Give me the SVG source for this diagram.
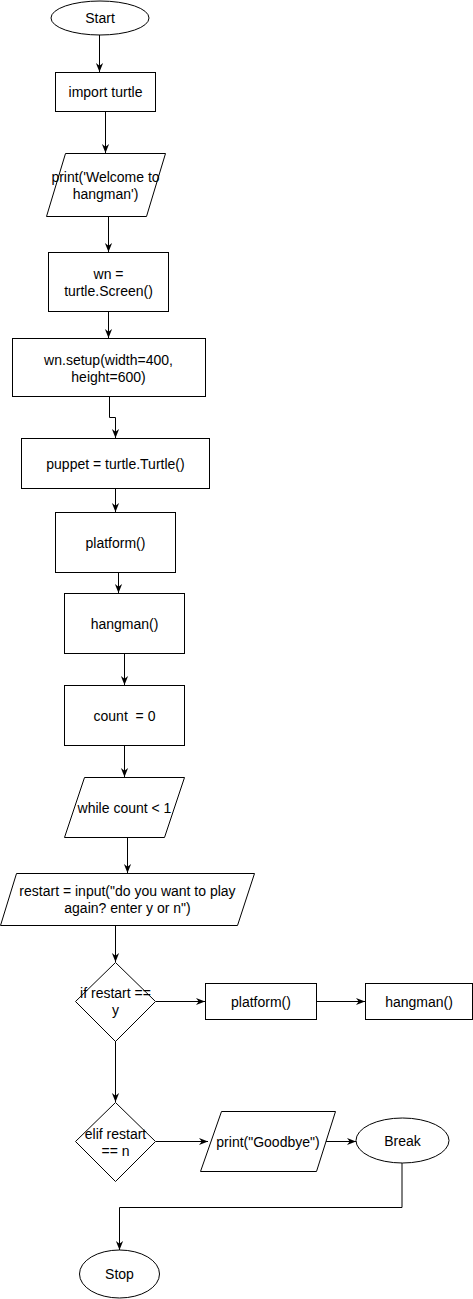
<svg xmlns="http://www.w3.org/2000/svg" width="473" height="1299" viewBox="0 0 473 1299">
<style>
.s{fill:#fff;stroke:#000;stroke-width:1}
.t{font-family:"Liberation Sans",Arial,sans-serif;font-size:14px;fill:#000;text-anchor:middle;white-space:pre}
.c{fill:none;stroke:#000;stroke-width:1}
</style>
<defs>
<marker id="a" viewBox="0 0 10 10" refX="10" refY="5" markerWidth="9" markerHeight="9" markerUnits="userSpaceOnUse" orient="auto">
<path d="M0,1 L10,5 L0,9 L3,5 z" fill="#000"/>
</marker>
</defs>
<rect width="473" height="1299" fill="#fff"/>
<g id="connectors">
<path class="c" d="M99.5,35 V72" marker-end="url(#a)"/>
<path class="c" d="M105.5,111 V153" marker-end="url(#a)"/>
<path class="c" d="M108.5,216 V252" marker-end="url(#a)"/>
<path class="c" d="M108.5,311 V338" marker-end="url(#a)"/>
<path class="c" d="M109.5,396 V417.5 H115.5 V438" marker-end="url(#a)"/>
<path class="c" d="M115.5,488 V512" marker-end="url(#a)"/>
<path class="c" d="M118.5,572 V593" marker-end="url(#a)"/>
<path class="c" d="M124.5,653 V685" marker-end="url(#a)"/>
<path class="c" d="M124.5,745 V777" marker-end="url(#a)"/>
<path class="c" d="M127.5,837 V873" marker-end="url(#a)"/>
<path class="c" d="M115.5,925 V962" marker-end="url(#a)"/>
<path class="c" d="M156,1001.5 H205" marker-end="url(#a)"/>
<path class="c" d="M316,1001.5 H365" marker-end="url(#a)"/>
<path class="c" d="M115.5,1041 V1102" marker-end="url(#a)"/>
<path class="c" d="M156,1141.5 H208" marker-end="url(#a)"/>
<path class="c" d="M325.5,1141.5 H356" marker-end="url(#a)"/>
<path class="c" d="M402,1163 V1207.5 H119.5 V1250" marker-end="url(#a)"/>
</g>
<g id="start">
<ellipse class="s" cx="100" cy="18" rx="49" ry="17"/>
<text class="t" x="100" y="23">Start</text>
</g>
<g id="import">
<rect class="s" x="55.5" y="72.5" width="100" height="39"/>
<text class="t" x="105.5" y="97">import turtle</text>
</g>
<g id="print-welcome">
<polygon class="s" points="65.5,153.5 165.5,153.5 146.5,216.5 46.5,216.5"/>
<text class="t" x="105.5" y="182">print('Welcome to</text>
<text class="t" x="105.5" y="199">hangman')</text>
</g>
<g id="wn-screen">
<rect class="s" x="48.5" y="252.5" width="120" height="59"/>
<text class="t" x="108.5" y="278.5">wn =</text>
<text class="t" x="108.5" y="295.5">turtle.Screen()</text>
</g>
<g id="wn-setup">
<rect class="s" x="12.5" y="338.5" width="193" height="58"/>
<text class="t" x="108.5" y="364.5">wn.setup(width=400,</text>
<text class="t" x="108.5" y="381.5">height=600)</text>
</g>
<g id="puppet">
<rect class="s" x="21.5" y="438.5" width="188" height="50"/>
<text class="t" x="115.5" y="468.5">puppet = turtle.Turtle()</text>
</g>
<g id="platform1">
<rect class="s" x="55.5" y="512.5" width="120" height="60"/>
<text class="t" x="115.5" y="547.5">platform()</text>
</g>
<g id="hangman1">
<rect class="s" x="64.5" y="593.5" width="120" height="60"/>
<text class="t" x="124.5" y="628.5">hangman()</text>
</g>
<g id="count">
<rect class="s" x="64.5" y="685.5" width="120" height="60"/>
<text class="t" x="124.5" y="720.5">count  = 0</text>
</g>
<g id="while">
<polygon class="s" points="84.5,777.5 184.5,777.5 164.5,837.5 64.5,837.5"/>
<text class="t" x="124.5" y="812.5">while count &lt; 1</text>
</g>
<g id="restart-input">
<polygon class="s" points="16.5,873.5 254.5,873.5 237.5,925.5 0.5,925.5"/>
<text class="t" x="127.5" y="896">restart = input("do you want to play</text>
<text class="t" x="127.5" y="913">again? enter y or n")</text>
</g>
<g id="if-y">
<polygon class="s" points="115.5,962.5 155.5,1001.5 115.5,1041.5 75.5,1001.5"/>
<text class="t" x="115.5" y="998">if restart ==</text>
<text class="t" x="115.5" y="1014.5">y</text>
</g>
<g id="platform2">
<rect class="s" x="205.5" y="983.5" width="111" height="36"/>
<text class="t" x="261" y="1006.5">platform()</text>
</g>
<g id="hangman2">
<rect class="s" x="365.5" y="983.5" width="107" height="36"/>
<text class="t" x="419" y="1006.5">hangman()</text>
</g>
<g id="elif-n">
<polygon class="s" points="115.5,1102.5 155.5,1141.5 115.5,1181.5 75.5,1141.5"/>
<text class="t" x="115.5" y="1138.5">elif restart</text>
<text class="t" x="115.5" y="1155.5">== n</text>
</g>
<g id="print-goodbye">
<polygon class="s" points="221.5,1111.5 335.5,1111.5 316.5,1171.5 200.5,1171.5"/>
<text class="t" x="268" y="1146.5">print("Goodbye")</text>
</g>
<g id="break">
<ellipse class="s" cx="402.5" cy="1140.5" rx="46.5" ry="22.5"/>
<text class="t" x="402.5" y="1145.5">Break</text>
</g>
<g id="stop">
<ellipse class="s" cx="119.5" cy="1274" rx="40" ry="24"/>
<text class="t" x="119.5" y="1279">Stop</text>
</g>
</svg>
